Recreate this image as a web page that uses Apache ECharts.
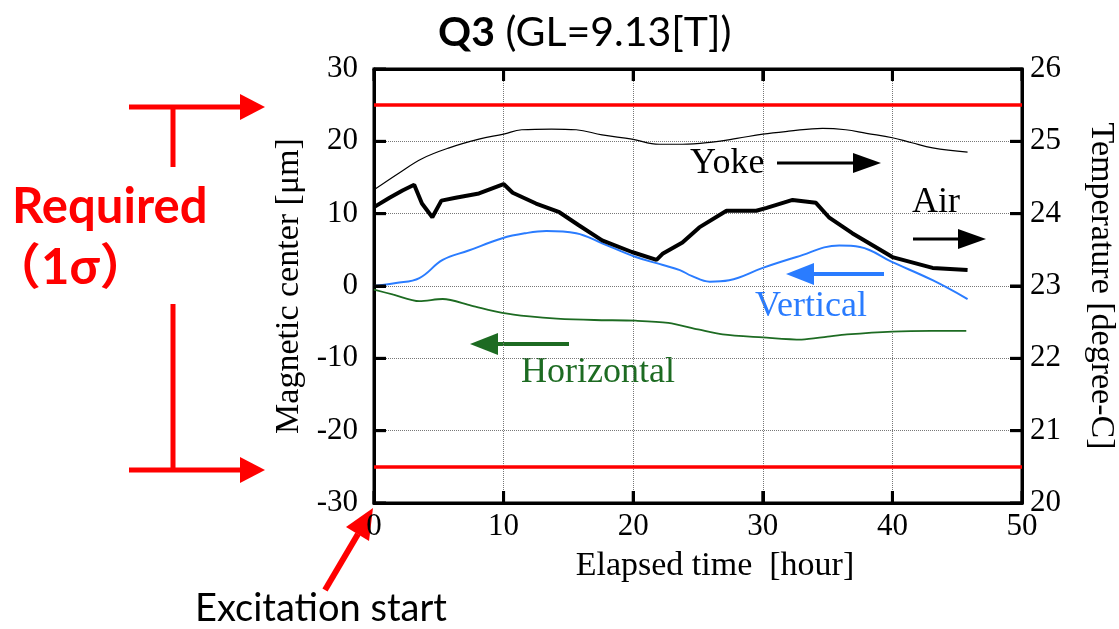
<!DOCTYPE html>
<html>
<head>
<meta charset="utf-8">
<title>Q3 magnetic center</title>
<script src="https://cdn.jsdelivr.net/npm/echarts@6/dist/echarts.min.js"></script>
<style>
  html, body { margin: 0; padding: 0; background: #fff; }
  #main { width: 1119px; height: 629px; }
</style>
</head>
<body>
<div id="main"></div>
<script>
// 数据
var xTicks = [0, 10, 20, 30, 40, 50];
var leftTicks = [-30, -20, -10, 0, 10, 20, 30];
var rightTicks = [20, 21, 22, 23, 24, 25, 26];
var requiredLimits = [25, -25];

// Yoke temperature [degree-C]
var yokeHours = [0, 2, 3.7, 5.8, 8.1, 10, 11.4, 13.7, 15.6, 17.6, 19.9, 22, 23.8, 26.1, 28, 30, 32, 34.6, 36.4, 38, 40, 41.5, 43.1, 45.8];
var yokeTemp = [24.33, 24.57, 24.76, 24.91, 25.03, 25.10, 25.16, 25.17, 25.16, 25.09, 25.03, 24.96, 24.96, 24.99, 25.04, 25.10, 25.14, 25.18, 25.16, 25.11, 25.05, 24.98, 24.91, 24.85];

// Air temperature [degree-C]
var airHours = [0, 1.2, 2.2, 3.1, 3.7, 4.5, 5.2, 6.3, 8.1, 10, 10.7, 12.5, 14.3, 15.8, 17.6, 19.9, 21.8, 22.3, 23.8, 25.1, 27.2, 29.5, 30.3, 32.3, 34.1, 35.1, 36.9, 40, 43.1, 45.8];
var airTemp = [24.09, 24.22, 24.32, 24.40, 24.14, 23.95, 24.18, 24.22, 24.28, 24.41, 24.29, 24.14, 24.02, 23.84, 23.63, 23.47, 23.36, 23.45, 23.60, 23.81, 24.04, 24.04, 24.08, 24.19, 24.15, 23.95, 23.73, 23.40, 23.25, 23.22];

// Vertical magnetic center [um]
var vertHours = [0, 1.7, 3.5, 5.3, 7.3, 9.9, 11.7, 13.3, 15.6, 17.6, 20.2, 22.3, 23.6, 24.5, 25.9, 27.4, 30, 32.6, 35.9, 37.5, 40, 43.1, 45.8];
var vertValues = [0.0, 0.4, 1.1, 3.6, 4.9, 6.6, 7.3, 7.6, 7.3, 5.9, 4.0, 2.9, 2.2, 1.4, 0.6, 0.8, 2.5, 4.0, 5.6, 5.4, 3.3, 0.8, -1.8];

// Horizontal magnetic center [um]
var horizHours = [0, 1.5, 3.5, 5.3, 7.5, 9.9, 12, 14.1, 17, 20.2, 22.7, 25, 26.9, 30, 33, 35, 36.5, 40, 43, 45.7];
var horizValues = [-0.5, -1.2, -2.1, -1.8, -2.7, -3.7, -4.2, -4.5, -4.7, -4.8, -5.1, -6.0, -6.7, -7.1, -7.4, -7.0, -6.7, -6.3, -6.2, -6.2];

function zip(xs, ys) {
  return xs.map(function (x, i) { return [x, ys[i]]; });
}

var SERIF = '"Liberation Serif", "Times New Roman", serif';
var SANS = 'Lato, "Noto Sans CJK JP", sans-serif';
var RED = '#ff0000';
var BLUE = '#2a7cff';
var GREEN = '#1d6b22';
var TICK_LEN = 12;

function arrow(x1, x2, y, head, half, color, width) {
  // horizontal arrow, tip at x2
  var dir = x2 > x1 ? 1 : -1;
  var base = x2 - dir * head;
  return [
    { type: 'line', shape: { x1: x1, y1: y, x2: base, y2: y }, style: { stroke: color, lineWidth: width } },
    { type: 'polygon', shape: { points: [[base, y - half], [x2, y], [base, y + half]] }, style: { fill: color } }
  ];
}

// 轴线/刻度 (new object each call)
function axisLine() {
  return { show: true, onZero: false, lineStyle: { color: '#000', width: 3 } };
}
function axisTick() {
  return { show: true, inside: true, length: TICK_LEN, lineStyle: { color: '#000', width: 3 } };
}
function gridLine() {
  return { show: true, lineStyle: { color: '#777', width: 1, type: 'dotted' } };
}

var chart = echarts.init(document.getElementById('main'), null, { renderer: 'canvas' });

var graphics = [
  // Required (1σ)
  { type: 'text', left: 12, top: 183, style: { text: 'Required', font: 'bold 49px ' + SANS, fill: RED } },
  { type: 'text', left: -8, top: 244, style: { text: '（1σ）', font: 'bold 49px ' + SANS, fill: RED } },
  { type: 'line', shape: { x1: 173, y1: 107, x2: 173, y2: 167 }, style: { stroke: RED, lineWidth: 5 } },
  { type: 'line', shape: { x1: 173, y1: 304, x2: 173, y2: 470 }, style: { stroke: RED, lineWidth: 5 } },
  // Excitation start
  { type: 'text', left: 195, top: 590, style: { text: 'Excitation start', font: '38px ' + SANS, fill: '#000' } },
  { type: 'line', shape: { x1: 325, y1: 590, x2: 358, y2: 534 }, style: { stroke: RED, lineWidth: 6 } },
  { type: 'polygon', shape: { points: [[346, 527], [373, 508], [369, 541]] }, style: { fill: RED } },
  // in-plot labels
  { type: 'text', left: 690, top: 146, style: { text: 'Yoke', font: '36px ' + SERIF, fill: '#000' } },
  { type: 'text', left: 912, top: 185, style: { text: 'Air', font: '36px ' + SERIF, fill: '#000' } },
  { type: 'text', left: 755, top: 289, style: { text: 'Vertical', font: '36px ' + SERIF, fill: BLUE } },
  { type: 'text', left: 521, top: 355, style: { text: 'Horizontal', font: '36px ' + SERIF, fill: GREEN } }
];
graphics = graphics
  .concat(arrow(129, 265, 107, 25, 13, RED, 5))
  .concat(arrow(129, 265, 470, 25, 13, RED, 5))
  .concat(arrow(777, 881, 163, 28, 10, '#000', 3))
  .concat(arrow(913, 986, 239, 28, 10, '#000', 3))
  .concat(arrow(884, 786, 274, 28, 11, BLUE, 4))
  .concat(arrow(569, 470, 344, 28, 11, GREEN, 4));

var option = {
  animation: false,
  backgroundColor: '#fff',
  title: {
    left: 433,
    top: 7,
    text: '{b|Q3} (GL=9.13[T])',
    textStyle: {
      fontFamily: SANS, fontSize: 41, fontWeight: 'normal', color: '#000',
      rich: { b: { fontFamily: SANS, fontSize: 41, fontWeight: 'bold', color: '#000' } }
    }
  },
  grid: {
    left: 374, right: 97, top: 69, bottom: 126, outerBoundsMode: 'none',
    show: true, borderColor: '#000', borderWidth: 3, backgroundColor: 'transparent'
  },
  xAxis: [
    {
      type: 'value', min: xTicks[0], max: xTicks[xTicks.length - 1], interval: 10,
      axisLine: axisLine(), axisTick: axisTick(),
      splitLine: gridLine(),
      axisLabel: { fontFamily: SERIF, fontSize: 31, color: '#000', margin: 8 },
      name: 'Elapsed time  [hour]', nameLocation: 'middle', nameGap: 46,
      nameTextStyle: { fontFamily: SERIF, fontSize: 34, color: '#000', padding: [0, 0, 0, 34] }
    },
    {
      type: 'value', position: 'top', min: 0, max: 50, interval: 10,
      axisLine: axisLine(), axisTick: axisTick(),
      axisLabel: { show: false }, splitLine: { show: false }
    }
  ],
  yAxis: [
    {
      type: 'value', min: -30, max: 30, interval: 10, position: 'left',
      axisLine: axisLine(), axisTick: axisTick(),
      splitLine: gridLine(),
      axisLabel: { fontFamily: SERIF, fontSize: 31, color: '#000', margin: 16 },
      name: 'Magnetic center [μm]', nameLocation: 'middle', nameGap: 64, nameRotate: 90,
      nameTextStyle: { fontFamily: SERIF, fontSize: 34, color: '#000' }
    },
    {
      type: 'value', min: 20, max: 26, interval: 1, position: 'right',
      axisLine: axisLine(), axisTick: axisTick(),
      splitLine: { show: false },
      axisLabel: { fontFamily: SERIF, fontSize: 31, color: '#000', margin: 8 },
      name: 'Temperature [degree-C]', nameLocation: 'middle', nameGap: 62, nameRotate: -90,
      nameTextStyle: { fontFamily: SERIF, fontSize: 34, color: '#000' }
    }
  ],
  series: [
    {
      name: 'Yoke', type: 'line', yAxisIndex: 1, showSymbol: false, smooth: 0.4,
      lineStyle: { color: '#000', width: 1.2 }, data: zip(yokeHours, yokeTemp), z: 3
    },
    {
      name: 'Air', type: 'line', yAxisIndex: 1, showSymbol: false,
      lineStyle: { color: '#000', width: 4 }, data: zip(airHours, airTemp), z: 4
    },
    {
      name: 'Vertical', type: 'line', showSymbol: false, smooth: 0.4,
      lineStyle: { color: BLUE, width: 2 }, data: zip(vertHours, vertValues), z: 3
    },
    {
      name: 'Horizontal', type: 'line', showSymbol: false, smooth: 0.3,
      lineStyle: { color: GREEN, width: 1.8 }, data: zip(horizHours, horizValues), z: 3,
      markLine: {
        silent: true, symbol: 'none', animation: false,
        label: { show: false },
        lineStyle: { color: RED, width: 3.5, type: 'solid' },
        data: requiredLimits.map(function (v) { return { yAxis: v }; })
      }
    }
  ],
  graphic: graphics
};

chart.setOption(option);

// 刻度线: 用坐标轴换算位置, 画在框内侧
function px(x, y) {
  return chart.convertToPixel({ gridIndex: 0 }, [x, y]);
}
function tickLines() {
  var out = [];
  var lo = leftTicks[0], hi = leftTicks[leftTicks.length - 1];
  var x0 = xTicks[0], x1 = xTicks[xTicks.length - 1];
  function seg(a, b) {
    return {
      type: 'line', z: 50,
      shape: { x1: a[0], y1: a[1], x2: b[0], y2: b[1] },
      style: { stroke: '#000', lineWidth: 3 }
    };
  }
  xTicks.forEach(function (v) {
    var b = px(v, lo), t = px(v, hi);
    out.push(seg(b, [b[0], b[1] - TICK_LEN]));
    out.push(seg(t, [t[0], t[1] + TICK_LEN]));
  });
  leftTicks.forEach(function (v) {
    var p = px(x0, v);
    out.push(seg(p, [p[0] + TICK_LEN, p[1]]));
  });
  rightTicks.forEach(function (v) {
    // right axis rows line up with the left axis (20..26 <-> -30..30)
    var yv = lo + (v - rightTicks[0]) * (hi - lo) / (rightTicks[rightTicks.length - 1] - rightTicks[0]);
    var p = px(x1, yv);
    out.push(seg(p, [p[0] - TICK_LEN, p[1]]));
  });
  return out;
}

chart.setOption({ graphic: { elements: graphics.concat(tickLines()) } });
</script>
</body>
</html>
